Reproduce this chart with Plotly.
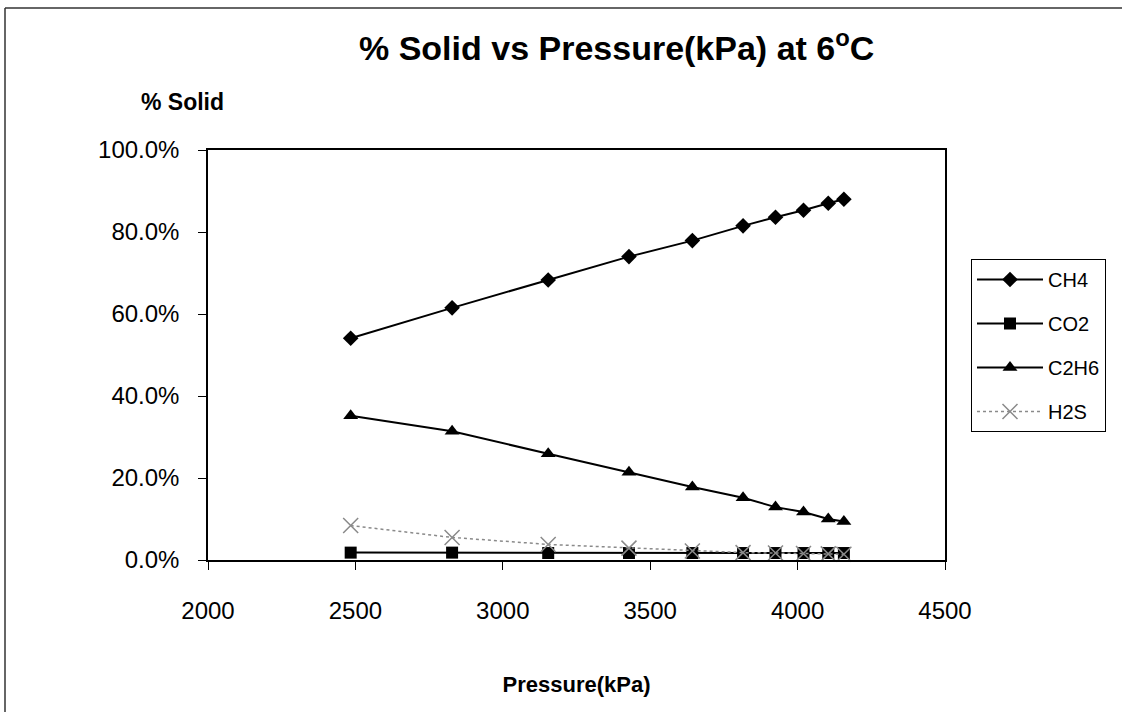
import plotly.graph_objects as go

# ---- data ----
pressure_kpa = [2484, 2828, 3154, 3428, 3643, 3815, 3925, 4020, 4104, 4157]
ch4_pct = [54.1, 61.5, 68.3, 74.0, 77.9, 81.5, 83.6, 85.3, 87.0, 88.0]
co2_pct = [1.8, 1.8, 1.7, 1.7, 1.7, 1.7, 1.7, 1.7, 1.7, 1.7]
c2h6_pct = [35.2, 31.4, 25.9, 21.4, 17.8, 15.2, 12.9, 11.7, 10.0, 9.4]
h2s_pct = [8.4, 5.5, 3.8, 2.9, 2.2, 1.8, 1.7, 1.6, 1.5, 1.4]

series_names = ["CH4", "CO2", "C2H6", "H2S"]
x_ticks = [2000, 2500, 3000, 3500, 4000, 4500]
y_ticks = [0, 20, 40, 60, 80, 100]

FONT = "Liberation Sans, Arial, sans-serif"

# plot area geometry (px)
W, H = 1122, 712
L, R, T, B = 208, 177, 150, 152
PW, PH = W - L - R, H - T - B


def px_x(px):
    return (px - L) / PW


def px_y(py):
    return (H - B - py) / PH


fig = go.Figure()

styles = [
    dict(y=ch4_pct, line=dict(color="black", width=2),
         marker=dict(symbol="diamond", size=12, color="black")),
    dict(y=co2_pct, line=dict(color="black", width=2),
         marker=dict(symbol="square", size=12, color="black")),
    dict(y=c2h6_pct, line=dict(color="black", width=2),
         marker=dict(symbol="triangle-up", size=13, color="black")),
    dict(y=h2s_pct, line=dict(color="#8a8a8a", width=1.5, dash="dot"),
         marker=dict(symbol="x-thin", size=15,
                     line=dict(color="#8a8a8a", width=1.5), color="#8a8a8a")),
]

for name, st in zip(series_names, styles):
    fig.add_trace(go.Scatter(
        x=pressure_kpa, y=st["y"], name=name, mode="lines+markers",
        line=st["line"], marker=st["marker"], legendgroup=name,
        cliponaxis=False,
    ))

fig.update_layout(
    width=W, height=H,
    margin=dict(l=L, r=R, t=T, b=B),
    paper_bgcolor="white", plot_bgcolor="white",
    font=dict(family=FONT, color="black", size=24),
    showlegend=True,
    legend=dict(
        x=px_x(971), y=px_y(259), xanchor="left", yanchor="top",
        bordercolor="black", borderwidth=1,
        font=dict(family=FONT, size=20, color="black"),
        tracegroupgap=15, itemwidth=66,
    ),
    xaxis=dict(
        range=[2000, 4500], tickvals=x_ticks, ticktext=[str(v) for v in x_ticks],
        showgrid=False, zeroline=False, showline=True, linecolor="black",
        linewidth=1.5, mirror=True, ticks="outside", ticklen=8,
        tickcolor="black", tickfont=dict(size=24, family=FONT),
        ticklabelstandoff=20,
        title=dict(text="<b>Pressure(kPa)</b>", font=dict(size=22, family=FONT),
                   standoff=54),
    ),
    yaxis=dict(
        range=[0, 100], tickvals=y_ticks,
        ticktext=[f"{v:.1f}%" for v in y_ticks],
        showgrid=False, zeroline=False, showline=True, linecolor="black",
        linewidth=1.5, mirror=True, ticks="outside", ticklen=8,
        tickcolor="black", tickfont=dict(size=24, family=FONT),
        ticklabelstandoff=14,
    ),
    annotations=[
        dict(text="<b>% Solid vs Pressure(kPa) at 6<sup>o</sup>C</b>",
             x=px_x(616), y=px_y(45), xref="paper", yref="paper",
             xanchor="center", yanchor="middle",
             showarrow=False, font=dict(size=34, family=FONT)),
        dict(text="<b>% Solid</b>",
             x=px_x(182), y=px_y(102), xref="paper", yref="paper",
             xanchor="center", yanchor="middle",
             showarrow=False, font=dict(size=23, family=FONT)),
    ],
    shapes=[
        dict(type="line", xref="paper", yref="paper",
             x0=px_x(5), x1=px_x(5), y0=px_y(8), y1=px_y(712),
             line=dict(color="#333", width=1.5)),
        dict(type="line", xref="paper", yref="paper",
             x0=px_x(5), x1=px_x(1122), y0=px_y(8), y1=px_y(8),
             line=dict(color="#333", width=1.5)),
    ],
)

fig.write_html("out.html")
